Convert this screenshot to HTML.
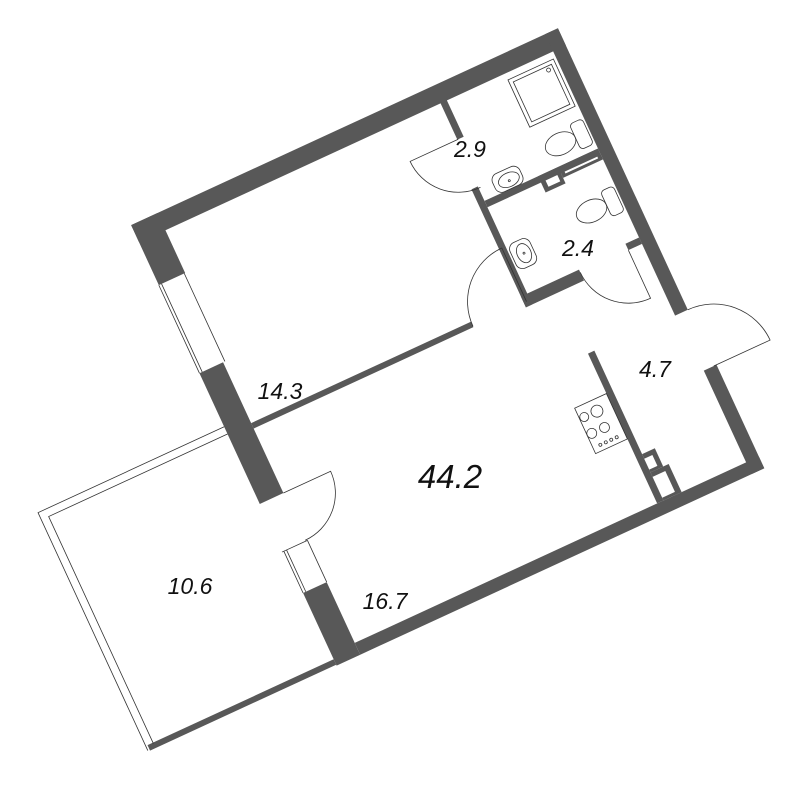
<!DOCTYPE html>
<html><head><meta charset="utf-8"><style>
html,body{margin:0;padding:0;background:#fff;width:800px;height:786px;overflow:hidden}
svg{display:block}
text{font-family:"Liberation Sans",sans-serif;font-style:italic;fill:#111}
</style></head><body>
<svg width="800" height="786" viewBox="0 0 800 786" xmlns="http://www.w3.org/2000/svg">
<g transform="translate(132,227) rotate(-24.77)">
 <g fill="#585858">
  <rect x="0" y="-2" width="470" height="19"/>
  <rect x="456" y="-2" width="14" height="310"/>
  <rect x="459" y="370" width="14" height="114"/>
  <rect x="28" y="471" width="445" height="13"/>
  <rect x="0" y="-2" width="29" height="66"/>
  <rect x="0" y="161" width="26" height="144"/>
  <rect x="2" y="404" width="26" height="80"/>
  <rect x="-203" y="477" width="205" height="6"/>
  <rect x="26" y="228" width="242" height="6"/>
  <rect x="332" y="15" width="7" height="42"/>
  <rect x="324" y="108" width="7" height="130"/>
  <rect x="331" y="124" width="123" height="7"/>
  <rect x="324" y="226" width="64" height="12"/>
  <rect x="441" y="222" width="15" height="7"/>
  <rect x="361" y="306" width="7" height="165"/>
  <rect x="390" y="124" width="22" height="18"/>
  <rect x="412" y="124" width="44" height="12"/>
  <rect x="368" y="420" width="14" height="20"/>
  <rect x="368" y="440" width="20" height="31"/>
 </g>
 <g fill="#fff">
  <rect x="395" y="131" width="13" height="7"/>
  <rect x="416" y="131" width="36" height="2"/>
  <rect x="368" y="425" width="9" height="12"/>
  <rect x="368" y="445" width="14" height="23"/>
 </g>
 <g fill="none" stroke="#333" stroke-width="0.8">
  <line x1="0" y1="64" x2="0" y2="161"/><line x1="3" y1="64" x2="3" y2="161"/><line x1="28" y1="64" x2="28" y2="161"/>
  <line x1="2" y1="358" x2="2" y2="404"/><line x1="5" y1="358" x2="5" y2="404"/><line x1="28" y1="358" x2="28" y2="404"/>
  <line x1="0" y1="358" x2="28" y2="358"/>
  <polyline points="0,220 -205,220 -205,482"/>
  <polyline points="0,228 -197,228 -197,478"/>
  <path d="M470,370 L532,370 A62,62 0 0,0 470,308"/>
  <path d="M26,305 L78,305 A52,52 0 0,1 26,357"/>
  <path d="M327,233 L327,174 A59,59 0 0,0 268,233"/>
  <path d="M333,57 L280,57 A53,53 0 0,0 333,110"/>
  <path d="M441,229 L441,282 A53,53 0 0,1 388,229"/>
  <rect x="403" y="24" width="50" height="52"/>
  <rect x="407" y="28" width="42" height="44"/>
  <circle cx="444" cy="32" r="2"/>
  <rect x="440" y="90" width="14" height="28" rx="4"/>
  <ellipse cx="424" cy="104" rx="16" ry="11"/>
  <rect x="440" y="164" width="14" height="28" rx="4"/>
  <ellipse cx="424" cy="178" rx="16" ry="11"/>
  <rect x="346" y="104" width="30" height="20" rx="7"/>
  <ellipse cx="362" cy="115" rx="11" ry="7"/>
  <circle cx="362" cy="116" r="1"/>
  <rect x="333" y="174" width="22" height="28" rx="7"/>
  <ellipse cx="345" cy="188" rx="7" ry="10"/>
  <circle cx="345" cy="188" r="1"/>
  <rect x="326" y="350" width="35" height="50"/>
  <circle cx="345" cy="362" r="6"/><circle cx="345" cy="380" r="5"/>
  <circle cx="331" cy="362" r="4.5"/><circle cx="331" cy="380" r="5"/>
  <circle cx="352" cy="394" r="1.5"/><circle cx="346" cy="394" r="1.5"/><circle cx="340" cy="394" r="1.5"/><circle cx="334" cy="394" r="1.5"/>
 </g>
</g>
<g font-size="23" text-anchor="middle">
 <text x="470" y="157">2.9</text>
 <text x="578" y="256">2.4</text>
 <text x="280" y="399">14.3</text>
 <text x="655" y="377">4.7</text>
 <text x="190" y="594">10.6</text>
 <text x="385" y="609">16.7</text>
 <text x="450" y="488" font-size="33">44.2</text>
</g>
</svg>
</body></html>
